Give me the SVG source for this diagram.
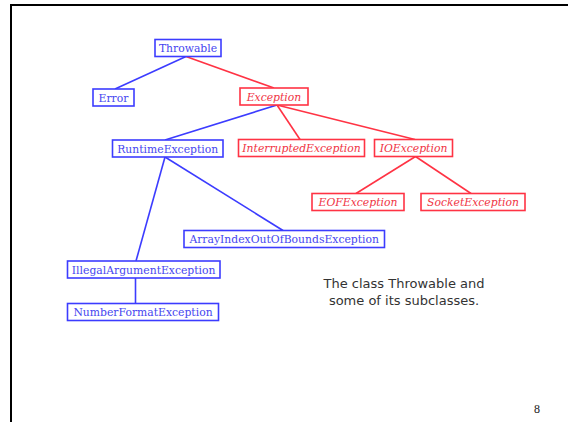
<svg xmlns="http://www.w3.org/2000/svg" width="568" height="422" viewBox="0 0 568 422">
<style>
.b rect{fill:#fff;stroke:#3c3cff;stroke-width:1.6}
.r rect{fill:#fff;stroke:#ff3344;stroke-width:1.6}
.b text{fill:#4646f0;font-family:"DejaVu Serif",serif;font-size:10.8px;text-anchor:middle}
.r text{fill:#f03444;font-family:"DejaVu Serif",serif;font-size:10.8px;font-style:italic;text-anchor:middle}
.lb{stroke:#3c3cff;stroke-width:1.6}
.lr{stroke:#ff3344;stroke-width:1.6}
.cap{fill:#333;font-family:"DejaVu Sans",sans-serif;font-size:13px;text-anchor:middle}
.pg{fill:#222;font-family:"Liberation Serif",serif;font-size:12px;text-anchor:middle}
</style>
<rect width="568" height="422" fill="#fff"/>
<path d="M11 422V5H568" fill="none" stroke="#000" stroke-width="2"/>
<g id="connectors">
<line class="lb" x1="186" y1="56.5" x2="115" y2="89"/>
<line class="lr" x1="186" y1="56.5" x2="274" y2="88"/>
<line class="lb" x1="277" y1="105" x2="165" y2="140"/>
<line class="lr" x1="277" y1="105" x2="300" y2="139.5"/>
<line class="lr" x1="277" y1="105" x2="415" y2="139.5"/>
<line class="lr" x1="415.5" y1="156.5" x2="356" y2="193.5"/>
<line class="lr" x1="415.5" y1="156.5" x2="471" y2="193.5"/>
<line class="lb" x1="165" y1="157" x2="136" y2="261"/>
<line class="lb" x1="165" y1="157" x2="283" y2="230.5"/>
<line class="lb" x1="135.5" y1="278" x2="135.5" y2="303.5"/>
</g>
<g id="throwable" class="b"><rect x="155" y="39.5" width="66" height="17"/><text x="188" y="52">Throwable</text></g>
<g id="error" class="b"><rect x="93" y="89" width="41" height="17"/><text x="113.5" y="101.5">Error</text></g>
<g id="exception" class="r"><rect x="240" y="88" width="68" height="17"/><text x="274" y="100.5">Exception</text></g>
<g id="runtimeexception" class="b"><rect x="112.5" y="140" width="110.5" height="17"/><text x="167.7" y="152.5">RuntimeException</text></g>
<g id="interruptedexception" class="r"><rect x="238.5" y="139.5" width="126" height="17"/><text x="301.5" y="152">InterruptedException</text></g>
<g id="ioexception" class="r"><rect x="374.5" y="139.5" width="78" height="17"/><text x="413.5" y="152">IOException</text></g>
<g id="eofexception" class="r"><rect x="312" y="193.5" width="92" height="17"/><text x="358" y="206">EOFException</text></g>
<g id="socketexception" class="r"><rect x="421" y="193.5" width="104" height="17"/><text x="473" y="206">SocketException</text></g>
<g id="arrayindexoutofboundsexception" class="b"><rect x="184" y="230.5" width="200.5" height="17"/><text x="284.2" y="243">ArrayIndexOutOfBoundsException</text></g>
<g id="illegalargumentexception" class="b"><rect x="67.5" y="261" width="152.5" height="17"/><text x="143.7" y="273.5">IllegalArgumentException</text></g>
<g id="numberformatexception" class="b"><rect x="67.5" y="303.5" width="151" height="17"/><text x="143" y="316">NumberFormatException</text></g>
<text class="cap" x="404" y="287.5">The class Throwable and</text>
<text class="cap" x="404" y="304.5">some of its subclasses.</text>
<text class="pg" x="537" y="413">8</text>
</svg>
